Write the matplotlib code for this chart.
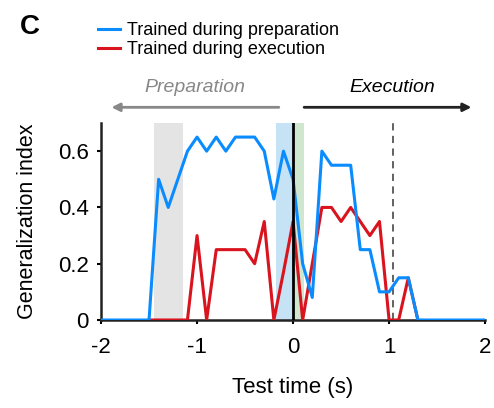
import numpy as np
import matplotlib.pyplot as plt
from matplotlib.lines import Line2D
from matplotlib.patches import FancyArrowPatch

plt.rcParams['font.family'] = ['Liberation Sans', 'DejaVu Sans']

# Trained during preparation (blue), test time in s
t_blue = [-2.0, -1.5, -1.4, -1.3, -1.2, -1.1, -1.0, -0.9, -0.8, -0.7, -0.6, -0.5, -0.4,
          -0.3, -0.2, -0.1, 0.0, 0.1, 0.2, 0.3, 0.4, 0.5, 0.6, 0.7, 0.8, 0.9, 1.0,
          1.1, 1.2, 1.3, 2.0]
v_blue = [0, 0, 0.5, 0.4, 0.5, 0.6, 0.65, 0.6, 0.65, 0.6, 0.65, 0.65, 0.65,
          0.6, 0.43, 0.6, 0.5, 0.2, 0.08, 0.6, 0.55, 0.55, 0.55, 0.25, 0.25, 0.1, 0.1,
          0.15, 0.15, 0, 0]

# Trained during execution (red)
t_red = [-1.5, -1.1, -1.0, -0.9, -0.8, -0.7, -0.6, -0.5, -0.4, -0.3, -0.2, -0.1,
         0.0, 0.1, 0.2, 0.3, 0.4, 0.5, 0.6, 0.7, 0.8, 0.9, 1.0, 1.1, 1.2, 1.3]
v_red = [0, 0, 0.3, 0, 0.25, 0.25, 0.25, 0.25, 0.2, 0.35, 0, 0.17,
         0.35, 0, 0.2, 0.4, 0.4, 0.35, 0.4, 0.35, 0.3, 0.35, 0, 0, 0.15, 0]

blue = '#0a8cff'
red = '#d9141e'

fig = plt.figure(figsize=(4.94, 4.08), dpi=100)
ax = fig.add_axes([0.2045, 0.2157, 0.7775, 0.4828])

# shaded windows
ax.axvspan(-1.45, -1.15, color='#e4e4e4', lw=0, zorder=0)
ax.axvspan(-0.175, 0, color='#c6e2f5', lw=0, zorder=0)
ax.axvspan(0, 0.11, color='#cfe6cf', lw=0, zorder=0)

ax.plot(t_red, v_red, color=red, lw=2.2, zorder=3)
ax.plot(t_blue, v_blue, color=blue, lw=2.2, zorder=4)

ax.axvline(0, color='black', lw=2, zorder=5)
ax.axvline(1.04, color='#555555', lw=1.3, ls=(0, (4, 3)), zorder=2)

ax.set_xlim(-2, 2)
ax.set_ylim(0, 0.7)
ax.set_xticks([-2, -1, 0, 1, 2])
ax.set_xticklabels(['-2', '-1', '0', '1', '2'])
ax.set_yticks([0, 0.2, 0.4, 0.6])
ax.set_yticklabels(['0', '0.2', '0.4', '0.6'])
ax.tick_params(labelsize=16, length=3, width=1.5, direction='out')
ax.tick_params(axis='x', pad=9)
ax.tick_params(axis='y', pad=6)
for s in ['top', 'right']:
    ax.spines[s].set_visible(False)
for s in ['left', 'bottom']:
    ax.spines[s].set_linewidth(1.8)
    ax.spines[s].set_color('#222222')
ax.set_xlabel('Test time (s)', fontsize=16, labelpad=14)
ax.set_ylabel('Generalization index', fontsize=15.5, labelpad=14)

# panel letter
fig.text(0.04, 0.935, 'C', fontsize=20, fontweight='bold', va='center')

# legend
handles = [Line2D([], [], color=blue, lw=2.2), Line2D([], [], color=red, lw=2.2)]
fig.legend(handles, ['Trained during preparation', 'Trained during execution'],
           loc='upper left', bbox_to_anchor=(0.165, 0.985), frameon=False,
           fontsize=13, handlelength=1.25, handletextpad=0.35, labelspacing=0.1)

# epoch arrows
fig.patches.append(FancyArrowPatch(
    (0.57, 0.737), (0.22, 0.737), transform=fig.transFigure,
    arrowstyle='-|>', mutation_scale=12, color='#888888', lw=2))
fig.patches.append(FancyArrowPatch(
    (0.61, 0.737), (0.96, 0.737), transform=fig.transFigure,
    arrowstyle='-|>', mutation_scale=12, color='#222222', lw=2))
fig.text(0.395, 0.786, 'Preparation', fontsize=14, style='italic', color='#888888',
         ha='center', va='center')
fig.text(0.795, 0.786, 'Execution', fontsize=14, style='italic', color='black',
         ha='center', va='center')

fig.savefig('out.png', dpi=100)
